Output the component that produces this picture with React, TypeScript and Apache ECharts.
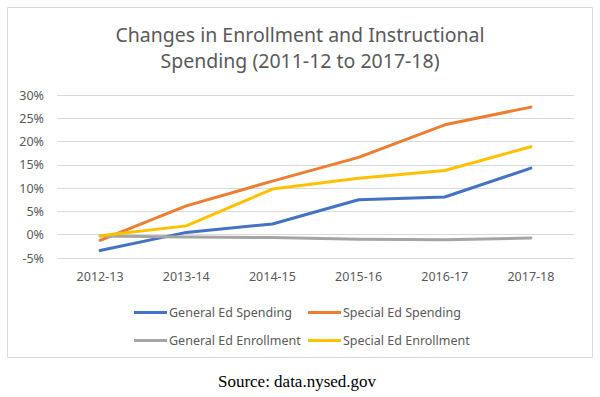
import React, { useEffect, useRef } from "react";
import * as echarts from "echarts";

const categories = ["2012-13", "2013-14", "2014-15", "2015-16", "2016-17", "2017-18"];
const generalEdSpending = [-3.4, 0.5, 2.3, 7.5, 8.1, 14.3];
const specialEdSpending = [-1.2, 6.2, 11.5, 16.6, 23.6, 27.4];
const generalEdEnrollment = [-0.3, -0.5, -0.6, -1.0, -1.1, -0.7];
const specialEdEnrollment = [-0.2, 1.9, 9.8, 12.1, 13.8, 18.9];
const seriesNames = [
  "General Ed Spending",
  "Special Ed Spending",
  "General Ed Enrollment",
  "Special Ed Enrollment",
];
const colors = ["#4472C4", "#ED7D31", "#A5A5A5", "#FFC000"];
const yTicks = { min: -5, max: 30, interval: 5 };
const titleLines = ["Changes in Enrollment and Instructional", "Spending (2011-12 to 2017-18)"];

const FONT = "Noto Sans";
const TEXT = "#595959";

export default function App() {
  const ref = useRef<HTMLDivElement>(null);
  useEffect(() => {
    if (!ref.current) return;
    const chart = echarts.init(ref.current, null, { renderer: "svg" });
    const values = [generalEdSpending, specialEdSpending, generalEdEnrollment, specialEdEnrollment];
    const legendPos = [
      { left: 129, top: 301 },
      { left: 303, top: 301 },
      { left: 129, top: 329 },
      { left: 303, top: 329 },
    ];
    chart.setOption({
      animation: false,
      backgroundColor: "#ffffff",
      legend: legendPos.map((p, i) => ({
        data: [seriesNames[i]],
        left: p.left,
        top: p.top,
        icon: "rect",
        itemWidth: 33,
        itemHeight: 3,
        itemGap: 0,
        textStyle: { fontFamily: FONT, fontSize: 12.5, color: TEXT, padding: [0, 0, 0, -3] },
      })),
      grid: { left: 57, right: 26, top: 95, bottom: 139, containLabel: false },
      xAxis: {
        type: "category",
        data: categories,
        boundaryGap: true,
        axisLine: { show: false },
        axisTick: { show: false },
        axisLabel: { fontFamily: FONT, fontSize: 12.5, color: TEXT, margin: 12 },
      },
      yAxis: {
        type: "value",
        min: yTicks.min,
        max: yTicks.max,
        interval: yTicks.interval,
        axisLine: { show: false },
        axisTick: { show: false },
        splitLine: { lineStyle: { color: "#D9D9D9", width: 1 } },
        axisLabel: {
          fontFamily: FONT,
          fontSize: 12.5,
          color: TEXT,
          margin: 13,
          formatter: "{value}%",
        },
      },
      graphic: [
        {
          type: "rect",
          shape: { x: 7.5, y: 7.5, width: 585, height: 350 },
          style: { fill: "none", stroke: "#D9D9D9", lineWidth: 1 },
          silent: true,
        },
        ...titleLines.map((t, i) => ({
          type: "text",
          x: 300,
          y: 34 + i * 26,
          style: {
            text: t,
            fontFamily: FONT,
            fontSize: 19.5,
            fill: TEXT,
            textAlign: "center",
            textVerticalAlign: "middle",
          },
        })),
        {
          type: "text",
          x: 297,
          y: 381,
          style: {
            text: "Source: data.nysed.gov",
            fontFamily: "Liberation Serif",
            fontSize: 17,
            fill: "#000000",
            textAlign: "center",
            textVerticalAlign: "middle",
          },
        },
      ],
      series: values.map((v, i) => ({
        name: seriesNames[i],
        type: "line",
        data: v,
        symbol: "none",
        lineStyle: { width: 3, color: colors[i], cap: "round", join: "round" },
        itemStyle: { color: colors[i] },
        z: 2,
      })),
    });
    return () => chart.dispose();
  }, []);
  return (
    <div
      ref={ref}
      style={{ position: "fixed", left: 0, top: 0, width: 600, height: 397 }}
    />
  );
}
